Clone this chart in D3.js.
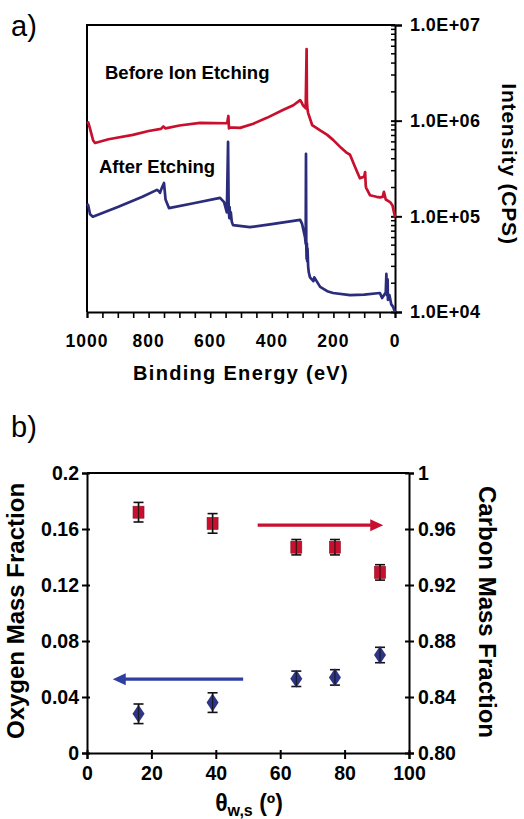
<!DOCTYPE html>
<html>
<head>
<meta charset="utf-8">
<script src="https://cdn.jsdelivr.net/npm/d3@7"></script>
<style>
  body { margin: 0; background: #fff; }
  svg { font-family: "Liberation Sans", Arial, sans-serif; }
  .tick text { font-weight: bold; }
</style>
</head>
<body>
<script>
// panel a: XPS survey spectra (binding energy in eV, intensity in CPS)
var beforeEnergy = [1000, 996, 990, 980, 974, 930, 851, 800, 760, 752, 745, 700, 633, 545, 541, 539, 536, 503, 460, 416, 364, 330, 308, 303, 299, 290, 287, 286, 284, 282, 278, 269, 243, 220, 201, 175, 156, 146, 130, 114, 100, 97, 95, 94, 81, 60, 49, 40, 36, 30, 16, 8, 0];
var beforeIntensity = [9.4e5, 9.6e5, 8.2e5, 6.2e5, 5.85e5, 6.4e5, 7.1e5, 7.8e5, 8.2e5, 8.7e5, 8.3e5, 8.9e5, 9.5e5, 9.4e5, 1.12e6, 8.3e5, 8.5e5, 8.4e5, 9.3e5, 1.07e6, 1.29e6, 1.45e6, 1.64e6, 1.55e6, 1.45e6, 1.35e6, 5.6e6, 1.6e6, 1.3e6, 1.2e6, 1.1e6, 9.0e5, 7.9e5, 7.1e5, 6.3e5, 5.2e5, 4.6e5, 4.4e5, 3.3e5, 2.5e5, 2.6e5, 2.9e5, 2.1e5, 2.0e5, 1.66e5, 1.6e5, 1.58e5, 1.6e5, 1.8e5, 1.5e5, 1.41e5, 1.3e5, 9.8e4];

var afterEnergy = [1000, 996, 990, 981, 900, 820, 773, 766, 763, 758, 750, 745, 734, 650, 568, 555, 546, 542, 540, 538, 537, 535, 533, 530, 526, 471, 400, 308, 302, 299, 292, 290, 289, 288, 287, 286, 285, 284, 282, 280, 276, 265, 262, 243, 220, 201, 146, 100, 49, 42, 30, 28, 26, 24, 23, 18, 12, 6, 0];
var afterIntensity = [1.35e5, 1.3e5, 1.05e5, 9.9e4, 1.25e5, 1.6e5, 1.89e5, 1.82e5, 1.76e5, 1.95e5, 2.23e5, 1.5e5, 1.22e5, 1.38e5, 1.56e5, 1.41e5, 1.1e5, 6.0e5, 1.2e5, 9.6e4, 1.25e5, 9.5e4, 1.1e5, 8.8e4, 8.1e4, 7.7e4, 8.3e4, 9.2e4, 8.4e4, 7.6e4, 6.0e4, 5.2e4, 4.5e5, 4.8e4, 3.6e4, 5.2e4, 3.4e4, 4.6e4, 3.0e4, 2.6e4, 2.3e4, 2.1e4, 2.3e4, 1.83e4, 1.65e4, 1.58e4, 1.5e4, 1.52e4, 1.58e4, 1.4e4, 1.6e4, 2.5e4, 1.5e4, 2.2e4, 1.34e4, 1.5e4, 1.2e4, 1.13e4, 1.0e4];

var energyTicks = [1000, 800, 600, 400, 200, 0];
var intensityTicks = [1e4, 1e5, 1e6, 1e7];
var intensityLabels = ["1.0E+04", "1.0E+05", "1.0E+06", "1.0E+07"];

// panel b: mass fractions vs water-surface angle
var angles = [16, 39, 65, 77, 91];
var carbonFraction = [0.972, 0.964, 0.947, 0.947, 0.929];
var carbonError = [0.007, 0.007, 0.0055, 0.0055, 0.0055];
var oxygenFraction = [0.028, 0.036, 0.053, 0.054, 0.070];
var oxygenError = [0.007, 0.007, 0.0055, 0.0055, 0.0055];

var angleTicks = [0, 20, 40, 60, 80, 100];
var oxygenTicks = [0, 0.04, 0.08, 0.12, 0.16, 0.2];
var oxygenLabels = ["0", "0.04", "0.08", "0.12", "0.16", "0.2"];
var carbonTicks = [0.80, 0.84, 0.88, 0.92, 0.96, 1.0];
var carbonLabels = ["0.80", "0.84", "0.88", "0.92", "0.96", "1"];

// arrows pointing to the matching axis: [x start, x end, y]
var carbonArrow = [53, 92, 0.9627];
var oxygenArrow = [48.5, 8, 0.0527];

var red = "#c8102e", navy = "#2b2c7c";

var svg = d3.select("body").append("svg")
  .attr("width", 524).attr("height", 819);

// ---------- panel a ----------
var xa = d3.scaleLinear().domain([1000, 0]).range([87, 395]);
var ya = d3.scaleLog().domain([1e4, 1e7]).range([312, 25]);

var ga = svg.append("g");

ga.append("text").attr("x", 11).attr("y", 36)
  .style("font-size", "29px").text("a)");

// frame top + left
ga.append("path")
  .attr("d", "M" + xa(1000) + "," + ya(1e4) + "V" + ya(1e7) + "H" + xa(0))
  .attr("fill", "none").attr("stroke", "#000").attr("stroke-width", 2);

var xAxisA = ga.append("g")
  .attr("transform", "translate(0," + ya(1e4) + ")")
  .call(d3.axisBottom(xa).tickValues(d3.range(0, 1001, 50)).tickSize(6).tickFormat(""));
xAxisA.select(".domain").attr("stroke-width", 2);
xAxisA.selectAll(".tick line").attr("stroke-width", 1.6);

ga.append("g").selectAll("text").data(energyTicks).enter().append("text")
  .attr("x", function(d) { return xa(d); })
  .attr("y", 347)
  .attr("text-anchor", "middle")
  .style("font-size", "17.5px").style("font-weight", "bold")
  .style("letter-spacing", "1px")
  .text(function(d) { return d; });

// right log axis: minor ticks inside, majors crossing
var minorA = [];
[1e4, 1e5, 1e6].forEach(function(dec) {
  for (var k = 2; k < 10; k++) minorA.push(dec * k);
});
var yAxisA = ga.append("g")
  .attr("transform", "translate(" + xa(0) + ",0)")
  .call(d3.axisRight(ya).tickValues(intensityTicks).tickSize(7)
    .tickFormat(function(d, i) { return intensityLabels[i]; }));
yAxisA.select(".domain").attr("stroke-width", 2);
yAxisA.selectAll(".tick line").attr("x1", -4).attr("stroke-width", 2);
yAxisA.selectAll(".tick text").attr("x", 15)
  .style("font-size", "18px").style("letter-spacing", "0.4px").attr("fill", "#000");
ga.append("g").selectAll("line").data(minorA).enter().append("line")
  .attr("x1", xa(0) - 4).attr("x2", xa(0))
  .attr("y1", function(d) { return ya(d); })
  .attr("y2", function(d) { return ya(d); })
  .attr("stroke", "#000").attr("stroke-width", 1.5);

var lineA = d3.line()
  .x(function(d) { return xa(d[0]); })
  .y(function(d) { return ya(d[1]); });

ga.append("path")
  .datum(d3.zip(beforeEnergy, beforeIntensity))
  .attr("d", lineA).attr("fill", "none")
  .attr("stroke", red).attr("stroke-width", 2.7).attr("stroke-linejoin", "round");
ga.append("path")
  .datum(d3.zip(afterEnergy, afterIntensity))
  .attr("d", lineA).attr("fill", "none")
  .attr("stroke", navy).attr("stroke-width", 2.7).attr("stroke-linejoin", "round");

ga.append("text").attr("x", 105).attr("y", 79)
  .style("font-size", "18.5px").style("font-weight", "bold")
  .text("Before Ion Etching");
ga.append("text").attr("x", 99).attr("y", 173)
  .style("font-size", "18.5px").style("font-weight", "bold")
  .text("After Etching");

ga.append("text")
  .attr("transform", "translate(241,380)")
  .attr("text-anchor", "middle")
  .style("font-size", "20px").style("font-weight", "bold").style("letter-spacing", "1.3px")
  .text("Binding Energy (eV)");
ga.append("text")
  .attr("transform", "translate(502,164) rotate(90)")
  .attr("text-anchor", "middle")
  .style("font-size", "21px").style("font-weight", "bold").style("letter-spacing", "0.8px")
  .text("Intensity (CPS)");

// ---------- panel b ----------
var xb = d3.scaleLinear().domain([0, 100]).range([87, 409]);
var yO = d3.scaleLinear().domain([0, 0.2]).range([753, 473]);
var yC = d3.scaleLinear().domain([0.8, 1.0]).range([753, 473]);

var gb = svg.append("g");

gb.append("text").attr("x", 11).attr("y", 437)
  .style("font-size", "29px").text("b)");

gb.append("line")
  .attr("x1", xb(0)).attr("x2", xb(100))
  .attr("y1", yO(0.2)).attr("y2", yO(0.2))
  .attr("stroke", "#000").attr("stroke-width", 2);

var xAxisB = gb.append("g")
  .attr("transform", "translate(0," + yO(0) + ")")
  .call(d3.axisBottom(xb).tickValues(angleTicks).tickSize(6).tickPadding(5));
xAxisB.select(".domain").attr("stroke-width", 2);
xAxisB.selectAll(".tick line").attr("y1", -3).attr("stroke-width", 2);
xAxisB.selectAll(".tick text").style("font-size", "19.5px").attr("dy", "0.8em");

var yAxisO = gb.append("g")
  .attr("transform", "translate(" + xb(0) + ",0)")
  .call(d3.axisLeft(yO).tickValues(oxygenTicks).tickSize(5).tickPadding(3)
    .tickFormat(function(d, i) { return oxygenLabels[i]; }));
yAxisO.select(".domain").attr("stroke-width", 2);
yAxisO.selectAll(".tick line").attr("x1", 3).attr("stroke-width", 2);
yAxisO.selectAll(".tick text").style("font-size", "19.5px");

var yAxisC = gb.append("g")
  .attr("transform", "translate(" + xb(100) + ",0)")
  .call(d3.axisRight(yC).tickValues(carbonTicks).tickSize(5).tickPadding(4)
    .tickFormat(function(d, i) { return carbonLabels[i]; }));
yAxisC.select(".domain").attr("stroke-width", 2);
yAxisC.selectAll(".tick line").attr("x1", -4).attr("stroke-width", 2);
yAxisC.selectAll(".tick text").style("font-size", "19.5px");

// error bars (caps + stems)
function errorBars(g, vals, errs, ys) {
  var eb = g.append("g").selectAll("g").data(angles).enter().append("g")
    .attr("stroke", "#111").attr("stroke-width", 1.6);
  eb.append("line")
    .attr("x1", function(d) { return xb(d); }).attr("x2", function(d) { return xb(d); })
    .attr("y1", function(d, i) { return ys(vals[i] + errs[i]); })
    .attr("y2", function(d, i) { return ys(vals[i] - errs[i]); });
  [1, -1].forEach(function(s) {
    eb.append("line")
      .attr("x1", function(d) { return xb(d) - 5; }).attr("x2", function(d) { return xb(d) + 5; })
      .attr("y1", function(d, i) { return ys(vals[i] + s * errs[i]); })
      .attr("y2", function(d, i) { return ys(vals[i] + s * errs[i]); });
  });
}
errorBars(gb, carbonFraction, carbonError, yC);
errorBars(gb, oxygenFraction, oxygenError, yO);

gb.append("g").selectAll("rect").data(angles).enter().append("rect")
  .attr("x", function(d) { return xb(d) - 5.5; })
  .attr("y", function(d, i) { return yC(carbonFraction[i]) - 6; })
  .attr("width", 11).attr("height", 12)
  .attr("fill", red).attr("stroke", "#8a0c20").attr("stroke-width", 0.6);

var diamond = d3.symbol().type(d3.symbolDiamond).size(95);
gb.append("g").selectAll("path").data(angles).enter().append("path")
  .attr("d", diamond)
  .attr("transform", function(d, i) {
    return "translate(" + xb(d) + "," + yO(oxygenFraction[i]) + ") scale(1.15,1)";
  })
  .attr("fill", "#2f3585");

// stems show through the markers in the figure
[[carbonFraction, carbonError, yC], [oxygenFraction, oxygenError, yO]].forEach(function(s) {
  gb.append("g").selectAll("line").data(angles).enter().append("line")
    .attr("x1", function(d) { return xb(d); }).attr("x2", function(d) { return xb(d); })
    .attr("y1", function(d, i) { return s[2](s[0][i] + s[1][i]); })
    .attr("y2", function(d, i) { return s[2](s[0][i] - s[1][i]); })
    .attr("stroke", "#111").attr("stroke-width", 1.2).attr("opacity", 0.8);
});

// arrows
function arrow(g, a, ys, color) {
  var x0 = xb(a[0]), x1 = xb(a[1]), y = ys(a[2]);
  var dir = x1 > x0 ? 1 : -1;
  g.append("line")
    .attr("x1", x0).attr("x2", x1 - dir * 10)
    .attr("y1", y).attr("y2", y)
    .attr("stroke", color).attr("stroke-width", 3.2);
  g.append("path")
    .attr("d", "M" + x1 + "," + y + "L" + (x1 - dir * 13) + "," + (y - 6) +
      "L" + (x1 - dir * 13) + "," + (y + 6) + "Z")
    .attr("fill", color);
}
arrow(gb, carbonArrow, yC, red);
arrow(gb, oxygenArrow, yO, "#2f3fa0");

gb.append("text")
  .attr("transform", "translate(24,611) rotate(-90)")
  .attr("text-anchor", "middle")
  .style("font-size", "24px").style("font-weight", "bold")
  .text("Oxygen Mass Fraction");
gb.append("text")
  .attr("transform", "translate(479,612) rotate(90)")
  .attr("text-anchor", "middle")
  .style("font-size", "24px").style("font-weight", "bold")
  .text("Carbon Mass Fraction");

var xt = gb.append("text")
  .attr("x", 249).attr("y", 811)
  .attr("text-anchor", "middle")
  .style("font-size", "23px").style("font-weight", "bold");
xt.append("tspan").text("θ");
xt.append("tspan").attr("dy", 5).style("font-size", "16px").text("w,s");
xt.append("tspan").attr("dy", -5).text(" (º)");
</script>
</body>
</html>
